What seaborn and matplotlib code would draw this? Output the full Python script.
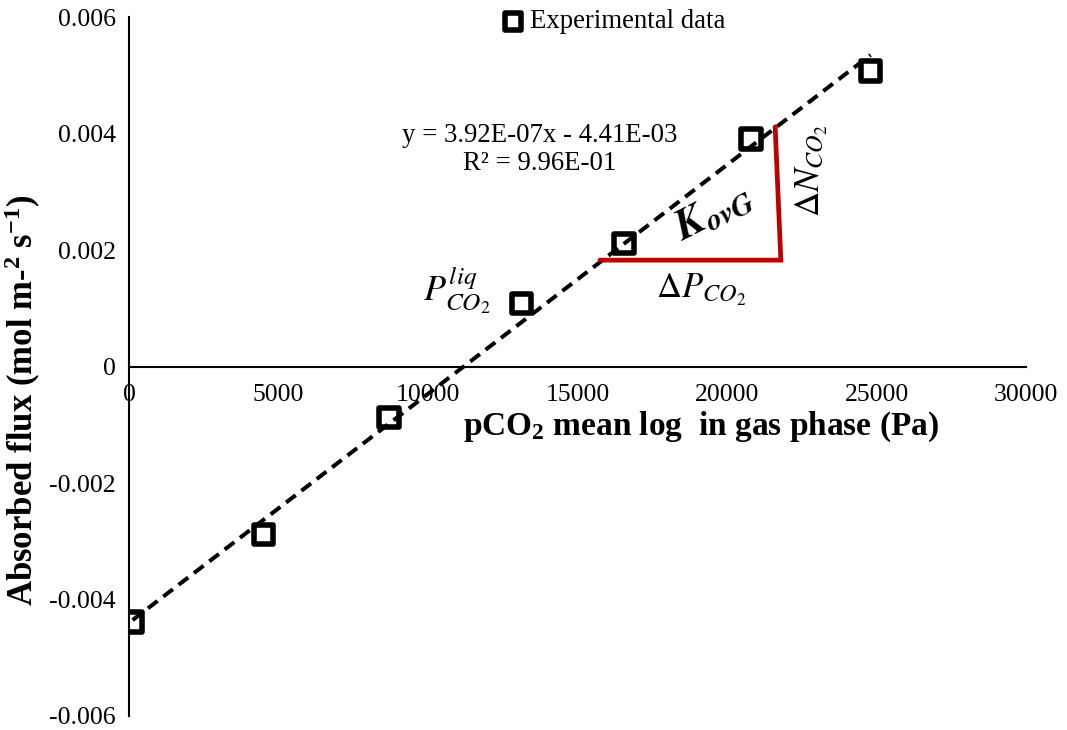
import numpy as np
import pandas as pd
import matplotlib
matplotlib.use("Agg")
import matplotlib.pyplot as plt
import seaborn as sns

# ---- data ----
p_co2 = [120, 4500, 8700, 13130, 16550, 20800, 24800]          # Pa
flux = [-0.00439, -0.00288, -0.000873, 0.001086, 0.002117, 0.003909, 0.005082]
x_ticks = [0, 5000, 10000, 15000, 20000, 25000, 30000]
x_tick_labels = ["0", "5000", "10000", "15000", "20000", "25000", "30000"]
y_ticks = [-0.006, -0.004, -0.002, 0, 0.002, 0.004, 0.006]
y_tick_labels = ["-0.006", "-0.004", "-0.002", "0", "0.002", "0.004", "0.006"]
series_label = "Experimental data"
eq_lines = ["y = 3.92E-07x - 4.41E-03", "R\u00b2 = 9.96E-01"]
# slope triangle (annotation) in data units
tri_x = [15750, 21800, 21610]
tri_y = [0.00183, 0.00183, 0.00412]

sns.set_style("white")
plt.rcParams["font.family"] = ["Liberation Serif", "DejaVu Serif"]
plt.rcParams["mathtext.fontset"] = "custom"
plt.rcParams["mathtext.rm"] = "Liberation Serif"
plt.rcParams["mathtext.bf"] = "Liberation Serif:bold"
plt.rcParams["mathtext.it"] = "Liberation Serif:italic"
for k in ["text.color", "axes.labelcolor", "xtick.color", "ytick.color"]:
    plt.rcParams[k] = "black"

df = pd.DataFrame({"p": p_co2, "flux": flux})

fig = plt.figure(figsize=(10.67, 7.3), dpi=100)
ax = fig.add_axes([0.1209, 0.0192, 0.8407, 0.957])

sns.regplot(data=df, x="p", y="flux", ax=ax, scatter=False, ci=None,
            line_kws=dict(color="black", lw=2.9, ls=(0, (3.0, 1.8))))
sns.scatterplot(data=df, x="p", y="flux", ax=ax, marker="s", s=200,
                facecolor="none", edgecolor="black", linewidth=4.0,
                label=series_label, zorder=3)

ax.plot(tri_x, tri_y, color="#C00000", lw=3.4, solid_joinstyle="miter", zorder=2)

ax.set_xlim(0, 30000)
ax.set_ylim(-0.006, 0.006)
ax.set_xticks(x_ticks)
ax.set_xticklabels(x_tick_labels)
ax.set_yticks(y_ticks)
ax.set_yticklabels(y_tick_labels)

for s in ["top", "right"]:
    ax.spines[s].set_visible(False)
ax.spines["left"].set_position(("data", 0))
ax.spines["bottom"].set_position(("data", 0))
for s in ["left", "bottom"]:
    ax.spines[s].set_linewidth(1.5)
    ax.spines[s].set_color("black")
ax.tick_params(axis="both", direction="out", length=4.5, width=1.5,
               labelsize=18.5, colors="black")
ax.tick_params(axis="x", pad=8)
ax.tick_params(axis="y", pad=5)

ax.set_xlabel(r"pCO$_\mathbf{2}$ mean log  in gas phase (Pa)", fontsize=24,
              fontweight="bold")
ax.xaxis.set_label_coords(0.638, 0.438)
ax.set_ylabel(r"Absorbed flux (mol m-$^\mathbf{2}$ s$^\mathbf{-1}$)", fontsize=25,
              fontweight="bold")
ax.yaxis.set_label_coords(-0.096, 0.452)

ax.text(13720, 0.00373, "\n".join(eq_lines), fontsize=19.3, ha="center",
        va="center", multialignment="center", linespacing=1.2)

ax.text(10950, 0.00131, r"$P_{CO_2}^{liq}$", fontsize=26, ha="center",
        va="center", math_fontfamily="stix")
ax.text(19130, 0.00131, r"$\Delta P_{CO_2}$", fontsize=25, ha="center",
        va="center", math_fontfamily="stix")
ax.text(19550, 0.00262, r"$\boldsymbol{K}_{\boldsymbol{ovG}}$", fontsize=31,
        ha="center", va="center", rotation=27, math_fontfamily="stix")
ax.text(22830, 0.00336, r"$\Delta N_{CO_2}$", fontsize=25, ha="center",
        va="center", rotation=90, math_fontfamily="stix")

ax.legend(loc="center", bbox_to_anchor=(606 / 1067, 1 - 22 / 730),
          bbox_transform=fig.transFigure, frameon=False, fontsize=19.3,
          handletextpad=-0.35, markerscale=0.85, borderpad=0, borderaxespad=0)

fig.savefig("out.png", dpi=100)
